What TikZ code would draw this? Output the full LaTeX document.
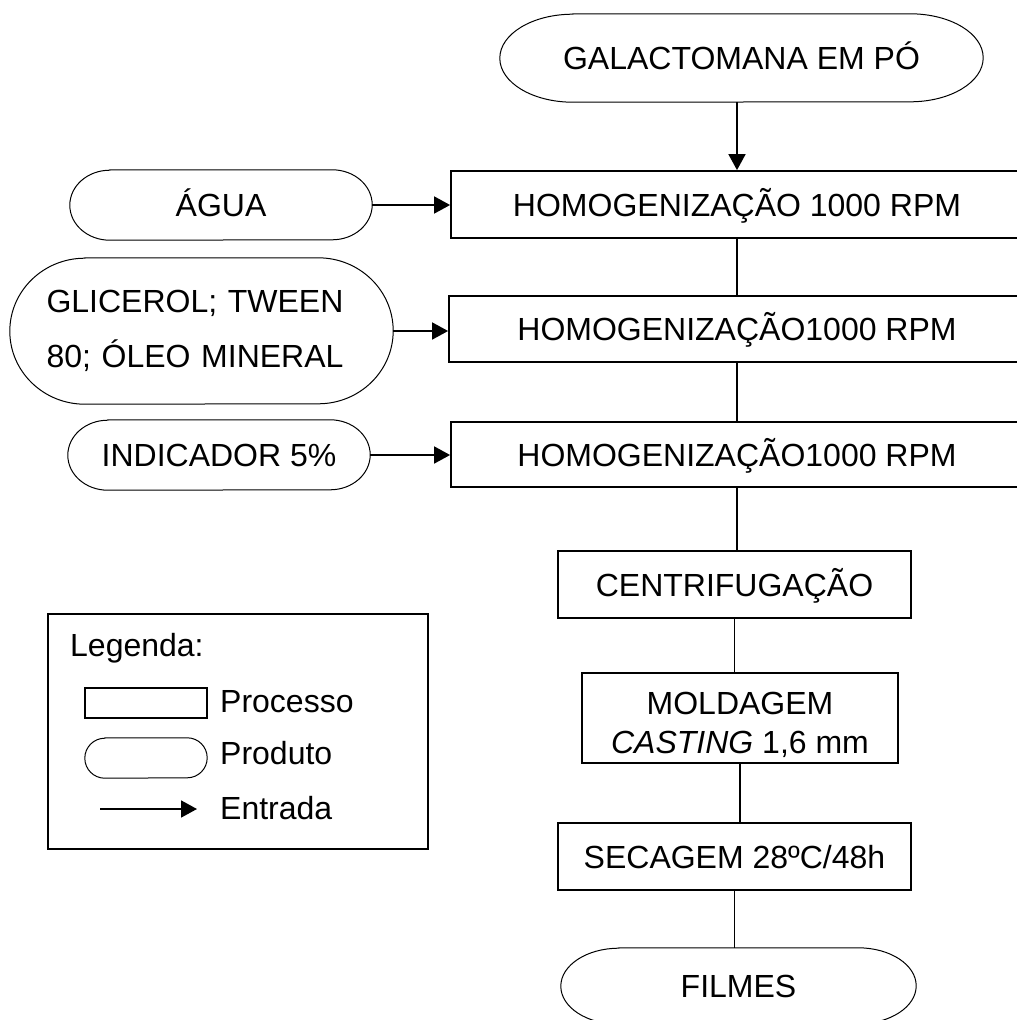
\documentclass[tikz,border=0pt]{standalone}
\usepackage{fontspec}
\setmainfont{Liberation Sans}
\usetikzlibrary{arrows.meta}
\tikzset{
  processo/.style={draw, line width=1.8pt, inner sep=0pt},
  produto/.style={inner sep=0pt},
  uma/.style={text height=23pt, text depth=0pt},
  texto/.style={inner sep=0pt, anchor=west, text height=23pt, text depth=0pt},
  entrada/.style={-{Triangle[length=16pt,width=17pt]}, line width=1.8pt},
  ligacao/.style={line width=1.8pt}
}
% contorno de produto: no, raio x, raio y
\newcommand{\contorno}[3]{%
\draw[line width=1pt] ([xshift=#2pt]#1.north west) -- ([xshift=-#2pt]#1.north east)
  arc[start angle=90,end angle=-90,x radius=#2pt,y radius=#3pt]
  -- ([xshift=#2pt]#1.south west)
  arc[start angle=270,end angle=90,x radius=#2pt,y radius=#3pt] -- cycle;}
\begin{document}
\begin{tikzpicture}[x=1pt,y=-1pt,font=\fontsize{32}{38}\selectfont]
\useasboundingbox (0,0) rectangle (1017,1020);
\clip (0,0) rectangle (1017,1020);
% coluna principal
\node[produto,uma,minimum width=483pt,minimum height=88pt] (galacto) at (741.5,58) {GALACTOMANA EM PÓ};
\node[processo,uma,minimum width=572pt,minimum height=67pt] (h1) at (737,204.5) {HOMOGENIZAÇÃO 1000 RPM};
\node[processo,uma,minimum width=576pt,minimum height=66pt] (h2) at (737,329) {HOMOGENIZAÇÃO1000 RPM};
\node[processo,uma,minimum width=572pt,minimum height=65pt] (h3) at (737,454.5) {HOMOGENIZAÇÃO1000 RPM};
\node[processo,uma,minimum width=353pt,minimum height=67pt] (centri) at (734.5,584.5) {CENTRIFUGAÇÃO};
\node[processo,align=center,minimum width=316pt,minimum height=90pt] (molda) at (740,718) {\rule{0pt}{36pt}MOLDAGEM\\[1pt]\textit{CASTING} 1,6 mm};
\node[processo,uma,minimum width=353pt,minimum height=67pt] (secag) at (734.5,856.5) {SECAGEM 28ºC/48h};
\node[produto,uma,minimum width=355pt,minimum height=76pt] (filmes) at (738.5,986) {FILMES};
% entradas
\node[produto,uma,minimum width=302pt,minimum height=70pt] (agua) at (221,205) {ÁGUA};
\node[produto,align=left,text width=310pt,minimum width=383pt,minimum height=146pt] (glic) at (201.5,331) {GLICEROL; TWEEN\\[17pt]80; ÓLEO MINERAL};
\node[produto,uma,minimum width=302pt,minimum height=70pt] (indic) at (219,455) {INDICADOR 5\%};
\draw[entrada] (galacto.south -| h1.north) -- (h1.north);
\foreach \a/\b in {agua/h1, glic/h2, indic/h3}
\draw[entrada] (\a.east) -- (\a.east -| \b.west);
\foreach \a/\b in {h1/h2, h2/h3, h3/centri, centri/molda, molda/secag, secag/filmes}
\draw[ligacao] (\a.south) -- (\a.south |- \b.north);
% legenda
\node[draw, line width=1.8pt, minimum width=380pt, minimum height=235pt] (legenda) at (238,731.5) {};
\node[texto] (legtit) at (70,645) {Legenda:};
\node[draw, line width=1.4pt, minimum width=122pt, minimum height=30pt] (legproc) at (146,703) {};
\node[texto] (legproct) at (220,701) {Processo};
\node[produto, minimum width=122pt, minimum height=40pt] (legprod) at (146,758) {};
\node[texto] (legprodt) at (220,753) {Produto};
\coordinate (lega) at (100,809);
\coordinate (legb) at (197,809);
\draw[entrada] (lega) -- (legb);
\node[texto] (legent) at (220,808) {Entrada};
\foreach \n/\rx/\ry in {galacto/73/44, agua/40/35, glic/75/73, indic/40/35, filmes/58/38, legprod/20/20}
\contorno{\n}{\rx}{\ry};
\end{tikzpicture}
\end{document}
